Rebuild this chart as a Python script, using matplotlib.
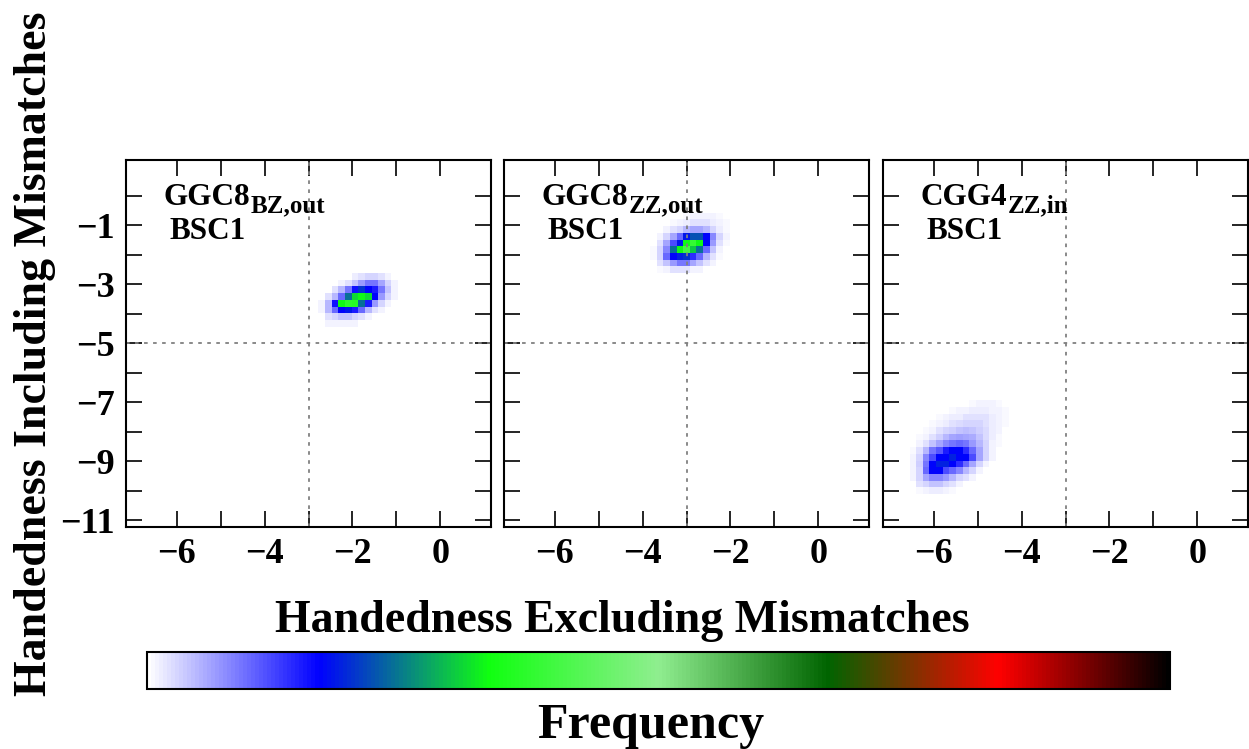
import numpy as np
import matplotlib
matplotlib.use("Agg")
import matplotlib.pyplot as plt
from matplotlib.colors import LinearSegmentedColormap, Normalize
from matplotlib.ticker import FixedLocator

# === FONTS ===
plt.rcParams['font.family'] = ['Liberation Serif', 'DejaVu Serif']
plt.rcParams['font.weight'] = 'bold'

# === DATA ===
panel_names = ["GGC8", "GGC8", "CGG4"]
panel_subs = ["BZ,out", "ZZ,out", "ZZ,in"]
panel_sys = ["BSC1", "BSC1", "BSC1"]

# histogram grid (55 x 55 bins)
x_range = (-7.15, 1.15)
y_range = (-11.25, 1.25)
n_bins = 55

x_major = [-6, -4, -2, 0]
x_minor = [-5, -3, -1]
y_major = [-11, -9, -7, -5, -3, -1]
y_minor = [-10, -8, -6, -4, -2, 0]
ref_x = -3
ref_y = -5

# normalized frequency of the occupied bins, rows listed top -> bottom
blob_bz_out = [
    [0, 0, 0, 0, 0, .015, .02, .03, .03, .02, .01, 0, 0],
    [0, 0, 0, .01, .02, .04, .07, .09, .09, .06, .03, .01, 0],
    [0, 0, .02, .05, .09, .16, .20, .17, .15, .09, .04, .01, 0],
    [0, .02, .05, .10, .24, .31, .33, .31, .17, .07, .03, .01, 0],
    [.01, .05, .16, .33, .37, .36, .24, .15, .07, .03, .01, 0, 0],
    [.01, .05, .10, .17, .18, .15, .10, .05, .02, .01, 0, 0, 0],
    [0, .02, .03, .04, .04, .03, .02, .01, 0, 0, 0, 0, 0],
    [0, .01, .01, .01, .01, .01, 0, 0, 0, 0, 0, 0, 0],
]
blob_zz_out = [
    [0, 0, 0, 0, 0, .005, .01, .01, .01, .01, .005, 0],
    [0, 0, 0, .005, .01, .015, .02, .02, .02, .015, .01, .005],
    [0, 0, .01, .02, .03, .05, .06, .06, .05, .03, .015, .005],
    [0, .01, .03, .06, .10, .18, .22, .22, .17, .08, .03, .01],
    [0, .02, .06, .12, .18, .33, .38, .33, .17, .07, .02, .005],
    [.005, .03, .08, .24, .33, .40, .30, .24, .10, .04, .01, 0],
    [.005, .03, .10, .17, .19, .20, .14, .10, .05, .02, .005, 0],
    [0, .02, .04, .07, .09, .09, .06, .04, .02, .01, 0, 0],
    [0, .005, .01, .02, .02, .02, .01, .01, 0, 0, 0, 0],
]
blob_zz_in = [
    [0, 0, 0, 0, 0, 0, 0, 0, 0, .005, .008, .008, .008, .005, 0, 0],
    [0, 0, 0, 0, 0, 0, .005, .008, .01, .012, .012, .012, .01, .008, .005, .003],
    [0, 0, 0, 0, .005, .01, .012, .015, .02, .022, .022, .02, .015, .01, .006, .003],
    [0, 0, 0, .005, .01, .015, .02, .025, .03, .03, .028, .022, .015, .008, .004, 0],
    [0, 0, .005, .01, .02, .03, .035, .04, .045, .04, .035, .025, .015, .008, .003, 0],
    [0, .005, .01, .02, .035, .05, .06, .065, .06, .055, .04, .025, .012, .005, 0, 0],
    [0, .01, .02, .04, .06, .08, .09, .10, .09, .07, .05, .03, .01, .004, 0, 0],
    [.005, .02, .05, .09, .11, .15, .17, .17, .14, .10, .06, .03, .01, 0, 0, 0],
    [.01, .03, .08, .12, .17, .17, .19, .17, .17, .12, .06, .03, .01, 0, 0, 0],
    [.01, .035, .09, .17, .19, .19, .17, .14, .10, .06, .03, .01, 0, 0, 0, 0],
    [.01, .03, .10, .17, .17, .12, .10, .08, .05, .03, .01, 0, 0, 0, 0, 0],
    [.01, .03, .06, .08, .08, .07, .05, .03, .02, .01, 0, 0, 0, 0, 0, 0],
    [0, .02, .03, .04, .04, .03, .02, .01, 0, 0, 0, 0, 0, 0, 0, 0],
    [0, .005, .01, .015, .015, .01, .005, 0, 0, 0, 0, 0, 0, 0, 0, 0],
]
blobs = [blob_bz_out, blob_zz_out, blob_zz_in]
# bin index of the top-left occupied bin (row counted from bottom, col from left)
blob_top_row = [37, 46, 18]
blob_left_col = [29, 22, 4]

cmap_colors = ["#ffffff", "#0000ff", "#10ff10", "#90ee90", "#006400", "#ff0000", "#000000"]

# === BUILD HISTOGRAMS ===
x_edges = np.linspace(x_range[0], x_range[1], n_bins + 1)
y_edges = np.linspace(y_range[0], y_range[1], n_bins + 1)

grids = []
for blob, top, left in zip(blobs, blob_top_row, blob_left_col):
    g = np.zeros((n_bins, n_bins))
    b = np.array(blob)
    for r in range(b.shape[0]):
        g[top - r, left:left + b.shape[1]] = b[r]
    grids.append(np.ma.masked_equal(g, 0))

cmap = LinearSegmentedColormap.from_list("freq", cmap_colors)
norm = Normalize(vmin=0, vmax=1)

# === PLOT ===
fig = plt.figure(figsize=(12.49, 7.49), dpi=100)

W, H = 1249, 749
lefts = [126, 504, 883]
ax_w, ax_top, ax_bot = 365, 160, 527

for i in range(3):
    ax = fig.add_axes([lefts[i] / W, 1 - ax_bot / H, ax_w / W, (ax_bot - ax_top) / H])
    ax.pcolormesh(x_edges, y_edges, grids[i], cmap=cmap, norm=norm)
    ax.axvline(ref_x, color="#808080", linestyle=(0, (2, 3)), linewidth=1.3)
    ax.axhline(ref_y, color="#808080", linestyle=(0, (2, 3)), linewidth=1.3)
    ax.set_xlim(x_range)
    ax.set_ylim(-11.23, 1.22)

    ax.xaxis.set_major_locator(FixedLocator(x_major))
    ax.xaxis.set_minor_locator(FixedLocator(x_minor))
    ax.yaxis.set_major_locator(FixedLocator(y_major))
    ax.yaxis.set_minor_locator(FixedLocator(y_minor))
    ax.tick_params(which="both", direction="in", length=11.5, width=1.2,
                   top=True, right=True, labelsize=26, pad=8)
    if i > 0:
        ax.tick_params(labelleft=False)
    for sp in ax.spines.values():
        sp.set_linewidth(1.5)

    t = ax.text(0.102, 0.877, panel_names[i], transform=ax.transAxes,
                fontsize=22.5, fontweight="bold", va="baseline", ha="left")
    ax.annotate(panel_subs[i], xy=(1, 0), xycoords=t, xytext=(0.5, -4),
                textcoords="offset points", fontsize=18, fontweight="bold",
                va="bottom", ha="left")
    ax.text(0.12, 0.785, panel_sys[i], transform=ax.transAxes,
            fontsize=22.5, fontweight="bold", va="baseline", ha="left")

fig.text(622 / W, 1 - 632 / H, "Handedness Excluding Mismatches",
         ha="center", va="baseline", fontsize=33, fontweight="bold")
fig.text(35 / W, 1 - 354 / H, "Handedness Including Mismatches",
         ha="center", va="center", rotation=90, fontsize=33, fontweight="bold")

# === COLORBAR ===
cax = fig.add_axes([147 / W, 1 - 689 / H, 1023 / W, 37 / H])
sm = plt.cm.ScalarMappable(cmap=cmap, norm=norm)
cb = fig.colorbar(sm, cax=cax, orientation="horizontal")
cb.set_ticks([])
cb.outline.set_linewidth(1.5)
fig.text(651 / W, 1 - 738 / H, "Frequency", ha="center", va="baseline",
         fontsize=36, fontweight="bold")

fig.savefig("out.png", dpi=100)
